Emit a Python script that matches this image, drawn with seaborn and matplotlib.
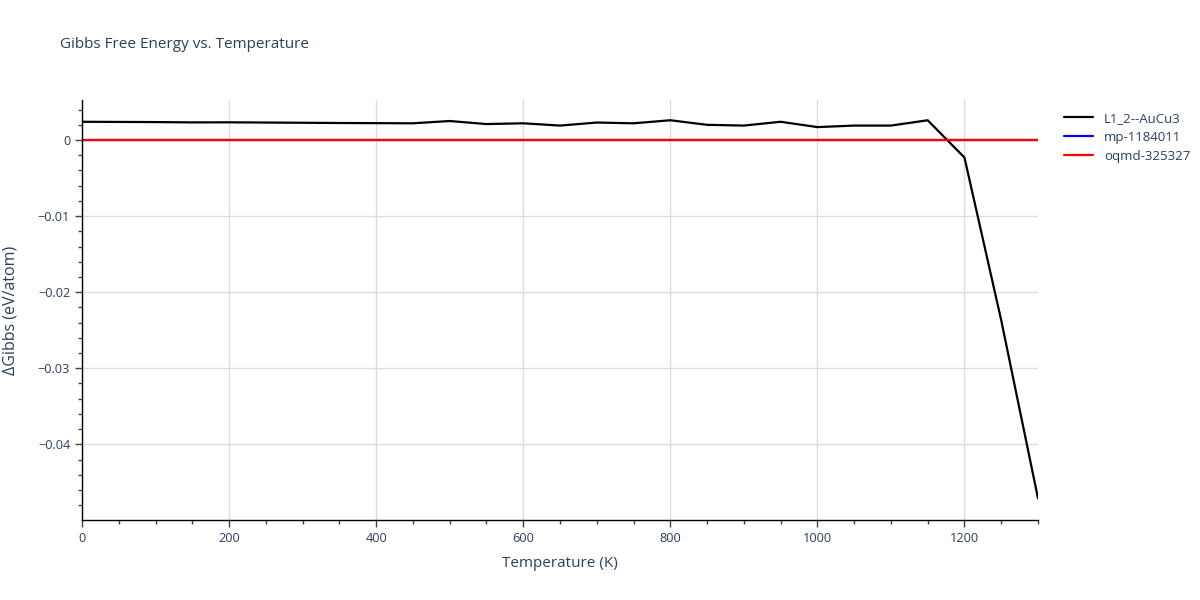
import matplotlib
matplotlib.use('Agg')
import matplotlib.pyplot as plt
from matplotlib.ticker import MultipleLocator
import numpy as np
import pandas as pd
import seaborn as sns

# ── Data ───────────────────────────────────────────────────────────────────────
temperature = [0, 50, 100, 150, 200, 250, 300, 350, 400, 450, 500, 550, 600, 650,
               700, 750, 800, 850, 900, 950, 1000, 1050, 1100, 1150, 1200, 1250, 1300]
gibbs_l12 = [0.0024, 0.00238, 0.00236, 0.00232, 0.00233, 0.0023, 0.00227, 0.00224,
             0.00222, 0.0022, 0.0025, 0.0021, 0.0022, 0.0019, 0.0023, 0.0022,
             0.0026, 0.0020, 0.0019, 0.0024, 0.0017, 0.0019, 0.0019, 0.0026,
             -0.0023, -0.0237, -0.0471]
gibbs_mp = [0.0] * len(temperature)
gibbs_oqmd = [0.0] * len(temperature)

series_names = ['L1_2--AuCu3', 'mp-1184011', 'oqmd-325327']
series_colors = ['black', 'blue', 'red']

df = pd.concat([
    pd.DataFrame({'T': temperature, 'G': gibbs_l12, 'phase': series_names[0]}),
    pd.DataFrame({'T': temperature, 'G': gibbs_mp, 'phase': series_names[1]}),
    pd.DataFrame({'T': temperature, 'G': gibbs_oqmd, 'phase': series_names[2]}),
])

# ── Plot ───────────────────────────────────────────────────────────────────────
sns.set_theme(style='white')
plt.rcParams['font.family'] = ['Open Sans', 'DejaVu Sans']
text_col = '#2a3f5f'

fig = plt.figure(figsize=(12, 6), dpi=100)
ax = fig.add_axes([0.0683, 0.1333, 0.7967, 0.7])

sns.lineplot(data=df, x='T', y='G', hue='phase', hue_order=series_names,
             palette=series_colors, linewidth=1.6, ax=ax, legend=True)

ax.set_xlim(0, 1300)
ax.set_ylim(-0.04995, 0.00526)
ax.xaxis.set_major_locator(MultipleLocator(200))
ax.xaxis.set_minor_locator(MultipleLocator(50))
ax.yaxis.set_major_locator(MultipleLocator(0.01))
ax.yaxis.set_minor_locator(MultipleLocator(0.002))
ax.yaxis.set_major_formatter(plt.FuncFormatter(
    lambda v, p: '0' if abs(v) < 1e-9 else f'{v:g}'.replace('-', '\u2212')))

ax.grid(True, which='major', color='#dcdcdc', linewidth=1)
for side in ['top', 'right']:
    ax.spines[side].set_visible(False)
for side in ['left', 'bottom']:
    ax.spines[side].set_color('black')
    ax.spines[side].set_linewidth(1)

ax.tick_params(axis='both', which='major', direction='out', length=5, width=1,
               color='#444444', labelsize=9.2, labelcolor=text_col, bottom=True, left=True)
ax.tick_params(axis='both', which='minor', direction='out', length=3, width=1,
               color='#444444', bottom=True, left=True)

ax.set_xlabel('Temperature (K)', fontsize=11, color=text_col, labelpad=8)
ax.set_ylabel('\u0394Gibbs (eV/atom)', fontsize=11.5, color=text_col, labelpad=14)
fig.text(0.05, 0.925, 'Gibbs Free Energy vs. Temperature', fontsize=11,
         color=text_col, va='center')

leg = ax.legend(loc='upper left', bbox_to_anchor=(1.015, 1.0), frameon=False,
                fontsize=9.5, handlelength=2.2, labelspacing=0.45)
for t in leg.get_texts():
    t.set_color(text_col)

plt.savefig('out.png', dpi=100)
plt.close()
